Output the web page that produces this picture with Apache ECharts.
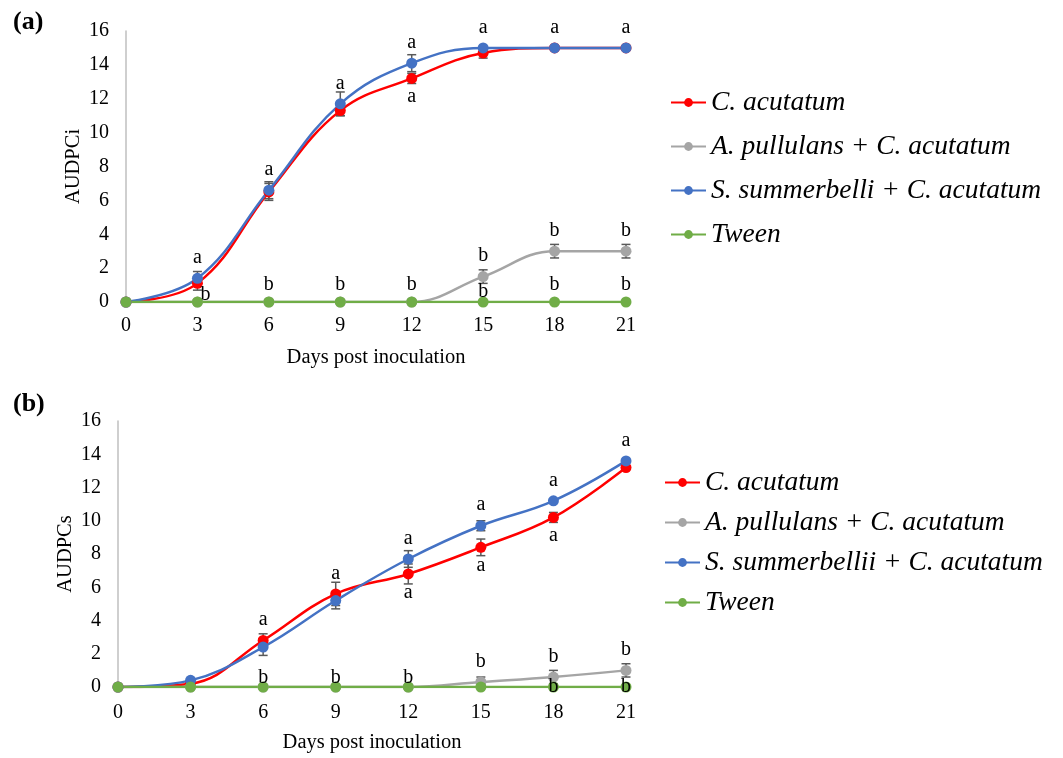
<!DOCTYPE html>
<html>
<head>
<meta charset="utf-8">
<script src="https://cdn.jsdelivr.net/npm/echarts@6/dist/echarts.min.js"></script>
<style>
  body { margin: 0; background: #fff; }
  #chartA { position: absolute; left: 0; top: 0; width: 1063px; height: 380px; }
  #chartB { position: absolute; left: 0; top: 380px; width: 1063px; height: 378px; }
</style>
</head>
<body>
<div id="chartA"></div>
<div id="chartB"></div>
<script>
// days post inoculation
const days = [0, 3, 6, 9, 12, 15, 18, 21];

// panel (a) - AUDPCi
const namesA = ['C. acutatum', 'A. pullulans + C. acutatum', 'S. summerbelli + C. acutatum', 'Tween'];
const caA = [0, 1.1, 6.5, 11.3, 13.2, 14.7, 15.0, 15.0];
const apA = [0, 0, 0, 0, 0, 1.5, 3.0, 3.0];
const ssA = [0, 1.4, 6.6, 11.7, 14.1, 15.0, 15.0, 15.0];
const twA = [0, 0, 0, 0, 0, 0, 0, 0];
const caErrA = [0, 0.4, 0.5, 0.3, 0.3, 0.3, 0, 0];
const apErrA = [0, 0, 0, 0, 0, 0.4, 0.4, 0.4];
const ssErrA = [0, 0.4, 0.5, 0.7, 0.5, 0, 0, 0];
const twErrA = [0, 0, 0, 0, 0, 0, 0, 0];
const caTopA = ['', '', '', '', '', '', '', ''];
const caBelowA = ['', 'b', '', '', 'a', '', '', ''];
const ssTopA = ['', 'a', 'a', 'a', 'a', 'a', 'a', 'a'];
const apTopA = ['', '', '', '', '', 'b', 'b', 'b'];
const apBelowA = ['', '', '', '', '', 'b', '', ''];
const twTopA = ['', '', 'b', 'b', 'b', '', 'b', 'b'];
const twOnA = ['', '', '', '', '', '', '', ''];

// panel (b) - AUDPCs
const namesB = ['C. acutatum', 'A. pullulans + C. acutatum', 'S. summerbellii + C. acutatum', 'Tween'];
const caB = [0, 0.2, 2.8, 5.6, 6.8, 8.4, 10.2, 13.2];
const apB = [0, 0, 0, 0, 0, 0.3, 0.6, 1.0];
const ssB = [0, 0.4, 2.4, 5.2, 7.7, 9.7, 11.2, 13.6];
const twB = [0, 0, 0, 0, 0, 0, 0, 0];
const caErrB = [0, 0, 0.4, 0.7, 0.6, 0.5, 0.3, 0];
const apErrB = [0, 0, 0, 0, 0, 0.3, 0.4, 0.4];
const ssErrB = [0, 0, 0.5, 0.5, 0.5, 0.3, 0, 0];
const twErrB = [0, 0, 0, 0, 0, 0, 0, 0];
const caTopB = ['', '', 'a', 'a', '', '', '', ''];
const caBelowB = ['', '', '', '', 'a', 'a', 'a', ''];
const ssTopB = ['', '', '', '', 'a', 'a', 'a', 'a'];
const apTopB = ['', '', '', '', '', 'b', 'b', 'b'];
const apBelowB = ['', '', '', '', '', '', '', ''];
const twTopB = ['', '', 'b', 'b', 'b', '', '', ''];
const twOnB = ['', '', '', '', '', '', 'b', 'b'];

const colors = ['#ff0000', '#a5a5a5', '#4472c4', '#70ad47'];
const serif = 'Liberation Serif';

function lineSeries(name, values, color) {
  return {
    name: name,
    type: 'line',
    smooth: 0.4,
    z: 3,
    symbol: 'circle',
    symbolSize: 11,
    lineStyle: { color: color, width: 2.5 },
    itemStyle: { color: color },
    data: values.map((v, i) => [days[i], v])
  };
}

function errorSeries(values, errs) {
  return {
    type: 'custom',
    z: 2,
    silent: true,
    data: values.map((v, i) => [days[i], v, errs[i]]).filter(d => d[2] > 0),
    renderItem(params, api) {
      const x = api.value(0), v = api.value(1), e = api.value(2);
      const hi = api.coord([x, v + e]);
      const lo = api.coord([x, v - e]);
      const w = 4.5;
      const style = { stroke: '#595959', lineWidth: 1.5 };
      return {
        type: 'group',
        children: [
          { type: 'line', shape: { x1: hi[0], y1: hi[1], x2: lo[0], y2: lo[1] }, style: style },
          { type: 'line', shape: { x1: hi[0] - w, y1: hi[1], x2: hi[0] + w, y2: hi[1] }, style: style },
          { type: 'line', shape: { x1: lo[0] - w, y1: lo[1], x2: lo[0] + w, y2: lo[1] }, style: style }
        ]
      };
    }
  };
}

function letterSeries(values, letters, position, distance) {
  return {
    type: 'scatter',
    z: 5,
    silent: true,
    symbolSize: 11,
    itemStyle: { color: 'rgba(0,0,0,0)', opacity: 1 },
    label: {
      show: true,
      position: position,
      distance: distance,
      color: '#000',
      opacity: 1,
      fontFamily: serif,
      fontSize: 20,
      formatter: p => letters[p.dataIndex]
    },
    data: values.map((v, i) => letters[i] ? [days[i], v] : [days[i], NaN])
  };
}

function buildOption(panel) {
  const series = [
    errorSeries(panel.ca, panel.caErr),
    errorSeries(panel.ap, panel.apErr),
    errorSeries(panel.ss, panel.ssErr),
    errorSeries(panel.tw, panel.twErr),
    lineSeries(panel.names[0], panel.ca, colors[0]),
    lineSeries(panel.names[1], panel.ap, colors[1]),
    lineSeries(panel.names[2], panel.ss, colors[2]),
    lineSeries(panel.names[3], panel.tw, colors[3]),
    letterSeries(panel.ca, panel.caTop, 'top', 5),
    letterSeries(panel.ss, panel.ssTop, 'top', 5),
    letterSeries(panel.ap, panel.apTop, 'top', 5),
    letterSeries(panel.ap, panel.apBelow, 'bottom', 0),
    letterSeries(panel.tw, panel.twTop, 'top', panel.twDist),
    letterSeries(panel.tw, panel.twOn, 'inside', 0)
  ];
  // red "below" letters; panel (a) has a shifted one at day 3
  const below = panel.caBelow.map((l, i) => (panel.caShift && panel.caShift[i]) ? '' : l);
  series.push(letterSeries(panel.ca, below, 'bottom', 3));
  if (panel.caShift) {
    const shifted = panel.caBelow.map((l, i) => panel.caShift[i] ? l : '');
    series.push(letterSeries(panel.ca, shifted, [8.5, 6.5], 0));
  }
  return {
    backgroundColor: '#fff',
    animation: false,
    graphic: [{
      type: 'text', left: 13, top: panel.titleTop,
      style: { text: panel.title, font: 'bold 26px "Liberation Serif"', fill: '#000' }
    }],
    legend: {
      left: panel.legendLeft,
      top: panel.legendTop,
      orient: 'vertical',
      itemWidth: 35,
      itemHeight: 11,
      itemGap: panel.legendGap,
      data: panel.names,
      textStyle: { fontFamily: serif, fontStyle: 'italic', fontSize: 27.5, color: '#000' }
    },
    grid: {
      left: panel.gridLeft, right: 437, top: panel.gridTop, bottom: panel.gridBottom,
      containLabel: false
    },
    xAxis: {
      type: 'value', min: 0, max: 21, interval: 3,
      name: 'Days post inoculation',
      nameLocation: 'middle',
      nameGap: 45,
      nameTextStyle: { fontFamily: serif, fontSize: 20.5, color: '#000' },
      axisLine: { show: true, lineStyle: { color: '#bfbfbf', width: 1.5 } },
      axisTick: { show: false },
      splitLine: { show: false },
      axisLabel: { fontFamily: serif, fontSize: 20, color: '#000', margin: panel.xMargin }
    },
    yAxis: {
      type: 'value', min: 0, max: 16, interval: 2,
      name: panel.yName,
      nameLocation: 'middle',
      nameRotate: 90,
      nameGap: 42,
      nameTextStyle: { fontFamily: serif, fontSize: 20.5, color: '#000' },
      axisLine: { show: true, lineStyle: { color: '#bfbfbf', width: 1.5 } },
      axisTick: { show: false },
      splitLine: { show: false },
      axisLabel: { fontFamily: serif, fontSize: 20, color: '#000', margin: 17 }
    },
    series: series
  };
}

const chartA = echarts.init(document.getElementById('chartA'));
chartA.setOption(buildOption({
  title: '(a)', titleTop: 9, yName: 'AUDPCi', names: namesA,
  legendLeft: 665, legendTop: 84, legendGap: 17,
  gridLeft: 126, gridTop: 31, gridBottom: 78, xMargin: 14,
  ca: caA, ap: apA, ss: ssA, tw: twA,
  caErr: caErrA, apErr: apErrA, ssErr: ssErrA, twErr: twErrA,
  caTop: caTopA, caBelow: caBelowA, caShift: [false, true, false, false, false, false, false, false],
  ssTop: ssTopA, apTop: apTopA, apBelow: apBelowA,
  twTop: twTopA, twOn: twOnA, twDist: 2
}));

const chartB = echarts.init(document.getElementById('chartB'));
chartB.setOption(buildOption({
  title: '(b)', titleTop: 11, yName: 'AUDPCs', names: namesB,
  legendLeft: 659, legendTop: 84, legendGap: 13,
  gridLeft: 118, gridTop: 41, gridBottom: 64, xMargin: 16,
  ca: caB, ap: apB, ss: ssB, tw: twB,
  caErr: caErrB, apErr: apErrB, ssErr: ssErrB, twErr: twErrB,
  caTop: caTopB, caBelow: caBelowB, caShift: null,
  ssTop: ssTopB, apTop: apTopB, apBelow: apBelowB,
  twTop: twTopB, twOn: twOnB, twDist: -6
}));
</script>
</body>
</html>
